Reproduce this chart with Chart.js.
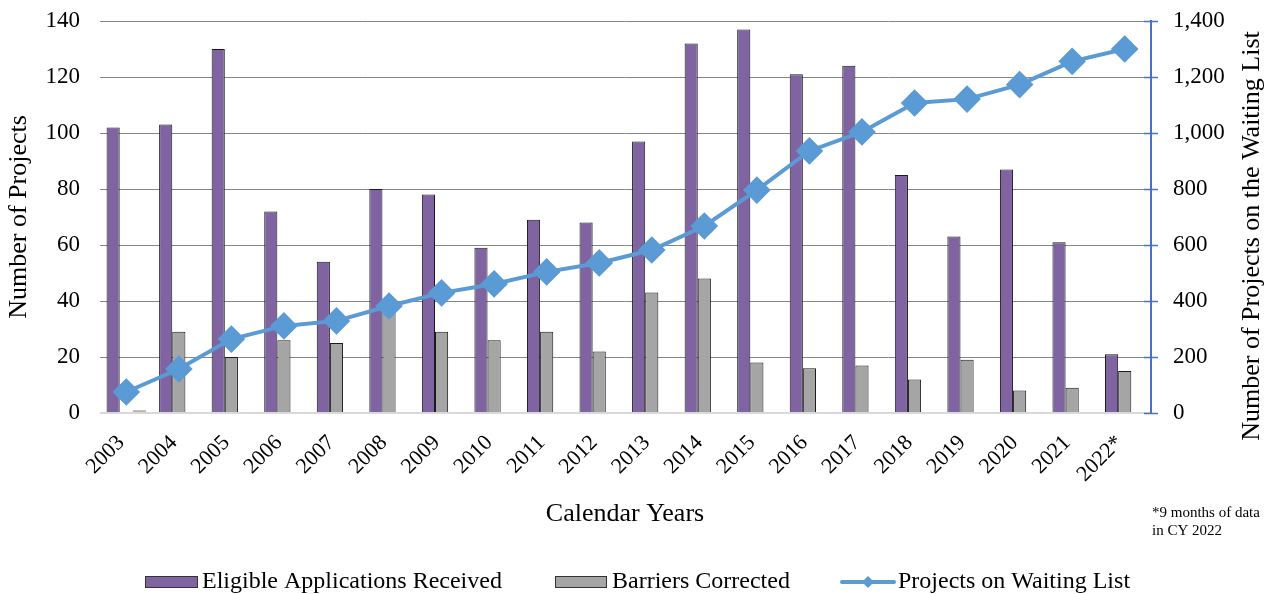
<!DOCTYPE html>
<html>
<head>
<meta charset="utf-8">
<title>Projects chart</title>
<script src="https://cdn.jsdelivr.net/npm/chart.js@4.4.1/dist/chart.umd.min.js"></script>
<style>
  body { margin: 0; background: #fff; }
  #wrap { width: 1274px; height: 594px; }
</style>
</head>
<body>
<div id="wrap"><canvas id="projChart"></canvas></div>
<script>
var years = ["2003","2004","2005","2006","2007","2008","2009","2010","2011","2012",
             "2013","2014","2015","2016","2017","2018","2019","2020","2021","2022*"];
var eligibleApps = [102,103,130,72,54,80,78,59,69,68,97,132,137,121,124,85,63,87,61,21];
var barriersFixed = [0,29,20,26,25,39,29,26,29,22,43,48,18,16,17,12,19,8,9,15];
// small stray bar in the third slot of 2003
var thirdSlot = [1,null,null,null,null,null,null,null,null,null,null,null,null,null,null,null,null,null,null,null];
var waitingList = [75,157,264,311,329,382,429,461,504,536,582,668,796,936,1004,1107,1121,1173,1256,1300];
var leftTicks = [0,20,40,60,80,100,120,140];
var rightTicks = [0,200,400,600,800,1000,1200,1400];

var serif = "'Liberation Serif', 'Times New Roman', serif";
var purple = "#8064a2", grey = "#a5a5a5", blue = "#5b9bd5";

var extras = {
  id: "extras",
  afterDraw: function(chart) {
    var ctx = chart.ctx;
    var y1 = chart.scales.y1;
    ctx.save();

    // tick marks crossing the right axis
    ctx.strokeStyle = "#4472c4";
    ctx.lineWidth = 1.5;
    rightTicks.forEach(function(v) {
      var py = Math.round(y1.getPixelForValue(v)) + 0.5;
      ctx.beginPath();
      ctx.moveTo(y1.left - 7, py);
      ctx.lineTo(y1.left + 7, py);
      ctx.stroke();
    });

    ctx.fillStyle = "#000";
    ctx.textBaseline = "middle";

    // right axis title, reads bottom to top
    ctx.font = "26px " + serif;
    ctx.textAlign = "center";
    ctx.save();
    ctx.translate(1252, 236);
    ctx.rotate(-Math.PI / 2);
    ctx.fillText("Number of Projects on the Waiting List", 0, 0);
    ctx.restore();

    ctx.fillText("Calendar Years", 625, 514);

    // footnote
    ctx.font = "15px " + serif;
    ctx.textAlign = "left";
    ctx.fillText("*9 months of data", 1152, 513);
    ctx.fillText("in CY 2022", 1152, 531);

    // legend
    var ly = 582;
    ctx.font = "24px " + serif;
    ctx.lineWidth = 1;
    ctx.strokeStyle = "#333";
    ctx.fillStyle = purple;
    ctx.fillRect(145, 576, 53, 12);
    ctx.strokeRect(145.5, 576.5, 52, 11);
    ctx.fillStyle = "#000";
    ctx.fillText("Eligible Applications Received", 202, ly);

    ctx.fillStyle = grey;
    ctx.fillRect(555, 576, 52, 12);
    ctx.strokeRect(555.5, 576.5, 51, 11);
    ctx.fillStyle = "#000";
    ctx.fillText("Barriers Corrected", 612, ly);

    ctx.strokeStyle = blue;
    ctx.lineWidth = 4;
    ctx.lineCap = "round";
    ctx.beginPath();
    ctx.moveTo(842, ly);
    ctx.lineTo(894, ly);
    ctx.stroke();
    ctx.fillStyle = blue;
    ctx.beginPath();
    ctx.moveTo(868, ly - 6);
    ctx.lineTo(874, ly);
    ctx.lineTo(868, ly + 6);
    ctx.lineTo(862, ly);
    ctx.closePath();
    ctx.fill();
    ctx.fillStyle = "#000";
    ctx.fillText("Projects on Waiting List", 898, ly);

    ctx.restore();
  }
};

var ctxP = document.getElementById("projChart").getContext("2d");
var projChart = new Chart(ctxP, {
  data: {
    labels: years,
    datasets: [
      {
        type: "line",
        label: "Projects on Waiting List",
        data: waitingList,
        yAxisID: "y1",
        borderColor: blue,
        backgroundColor: blue,
        borderWidth: 4,
        pointStyle: "rectRot",
        pointRadius: 11,
        pointBackgroundColor: blue,
        pointBorderColor: blue,
        tension: 0,
        order: 0
      },
      {
        type: "bar",
        label: "Eligible Applications Received",
        data: eligibleApps,
        yAxisID: "y",
        backgroundColor: purple,
        borderColor: "#1a1a1a",
        borderWidth: 1,
        categoryPercentage: 0.75,
        barPercentage: 1,
        order: 1
      },
      {
        type: "bar",
        label: "Barriers Corrected",
        data: barriersFixed,
        yAxisID: "y",
        backgroundColor: grey,
        borderColor: "#1a1a1a",
        borderWidth: 1,
        categoryPercentage: 0.75,
        barPercentage: 1,
        order: 2
      },
      {
        type: "bar",
        label: "",
        data: thirdSlot,
        yAxisID: "y",
        backgroundColor: "#b4b4b4",
        borderWidth: 0,
        categoryPercentage: 0.75,
        barPercentage: 1,
        order: 3
      }
    ]
  },
  options: {
    responsive: true,
    maintainAspectRatio: false,
    animation: false,
    layout: { padding: { top: 21, left: 0, right: 0, bottom: 0 } },
    plugins: {
      legend: { display: false },
      tooltip: { enabled: false }
    },
    scales: {
      x: {
        grid: { display: false, drawTicks: false },
        border: { display: false },
        ticks: {
          autoSkip: false,
          minRotation: 45,
          maxRotation: 45,
          padding: 17,
          labelOffset: -5,
          color: "#000",
          font: { family: serif, size: 22 }
        },
        afterFit: function(scale) { scale.height = 181; }
      },
      y: {
        position: "left",
        min: 0,
        max: 140,
        afterBuildTicks: function(scale) {
          scale.ticks = leftTicks.map(function(v) { return { value: v }; });
        },
        grid: {
          drawTicks: true,
          tickLength: 20,
          tickColor: "rgba(0,0,0,0)",
          color: function(c) { return c.tick.value === 0 ? "#d9d9d9" : "#868686"; },
          lineWidth: function(c) { return c.tick.value === 0 ? 2 : 1; }
        },
        border: { display: false },
        ticks: {
          padding: 0,
          color: "#000",
          font: { family: serif, size: 23 }
        },
        title: {
          display: true,
          text: "Number of Projects",
          color: "#000",
          font: { family: serif, size: 26 },
          padding: { top: 4, bottom: 4 }
        },
        afterFit: function(scale) { scale.width = 100; }
      },
      y1: {
        position: "right",
        min: 0,
        max: 1400,
        afterBuildTicks: function(scale) {
          scale.ticks = rightTicks.map(function(v) { return { value: v }; });
        },
        grid: {
          drawOnChartArea: false,
          drawTicks: true,
          tickLength: 22,
          tickColor: "rgba(0,0,0,0)"
        },
        border: { display: true, color: "#4472c4", width: 2 },
        ticks: {
          padding: 0,
          color: "#000",
          font: { family: serif, size: 23 },
          callback: function(v) { return v.toLocaleString("en-US"); }
        },
        afterFit: function(scale) { scale.width = 123; }
      }
    }
  },
  plugins: [extras]
});
</script>
</body>
</html>
